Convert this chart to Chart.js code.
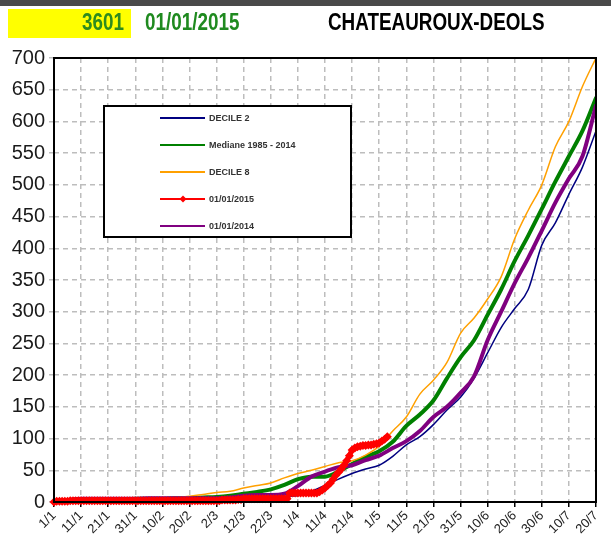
<!DOCTYPE html>
<html>
<head>
<meta charset="utf-8">
<script src="https://cdn.jsdelivr.net/npm/chart.js@4.4.0/dist/chart.umd.min.js"></script>
<style>
html, body { margin: 0; padding: 0; background: #fff; }
#wrap { position: relative; width: 611px; height: 543px; overflow: hidden; }
#topbar { position: absolute; left: 0; top: 0; width: 611px; height: 6px; background: #4a4a4a; }
#station { position: absolute; left: 8px; top: 9px; width: 123px; height: 29px; background: #ffff00; }
.hdr { position: absolute; top: 8px; line-height: 29px; font-family: "Liberation Sans", Arial, sans-serif; font-weight: bold; font-size: 23px; white-space: nowrap; transform: scaleX(0.82); transform-origin: left center; }
#myChart { position: absolute; left: 0; top: 0; }
</style>
</head>
<body>
<div id="wrap">
  <canvas id="myChart" width="611" height="543"></canvas>
  <div id="topbar"></div>
  <div id="station"></div>
  <div class="hdr" style="left:24px;width:100px;text-align:right;color:#2e8b1e;transform-origin:right center;">3601</div>
  <div class="hdr" style="left:145px;color:#1f8a1f;">01/01/2015</div>
  <div class="hdr" style="left:328px;color:#000;">CHATEAUROUX-DEOLS</div>
</div>
<script>
//Подписи оси X (каждые 10 дней с 1/1)
var tickLabels = ['1/1','11/1','21/1','31/1','10/2','20/2','2/3','12/3','22/3','1/4','11/4',
                  '21/4','1/5','11/5','21/5','31/5','10/6','20/6','30/6','10/7','20/7'];

//Дни для многолетних кривых (шаг 5 дней)
var days = [0,5,10,15,20,25,30,35,40,45,50,55,60,65,70,75,80,85,90,95,100,
            105,110,115,120,125,130,135,140,145,150,155,160,165,170,175,180,185,190,195,200];

var decile2 = [0,2,3,3,3,3,3,3,3,3,3,4,4,5,6,7,8,9,10,17,26,
               36,45,52,58,72,90,103,122,145,165,195,235,275,305,335,405,440,485,528,585];
var mediane = [0,2,4,4,4,4,5,5,5,6,6,7,8,10,13,16,20,27,36,40,40,
               48,60,71,80,95,120,138,160,195,228,255,295,335,380,420,462,505,545,585,637];
var decile8 = [0,2,4,4,4,5,5,5,6,7,9,12,15,17,22,26,30,38,45,50,56,
               62,65,74,88,112,134,170,192,220,266,290,320,355,415,460,500,560,600,655,700];
var an2014  = [0,3,5,5,5,5,5,6,6,6,6,6,6,7,10,11,11,13,25,40,48,
               55,58,66,73,85,96,112,134,150,172,198,255,300,345,385,428,472,510,545,625];

//2015 - значения по дням (с 1/1)
var an2015 = [0,1,1,1,1,1,2,2,2,2,
              2,2,2,2,2,2,2,2,2,2,2,2,2,2,2,2,2,2,2,2,
              2,2,2,2,2,2,2,2,2,2,2,2,2,2,2,2,2,2,2,2,
              2,2,2,2,2,2,2,2,2,2,
              2,2,3,3,3,3,3,3,4,4,
              5,5,5,5,5,5,5,5,5,5,5,5,5,5,5,5,5,
              14,14,14,14,14,14,14,14,14,14,14,
              16,19,22,26,30,36,42,47,52,58,65,73,82,
              85,87,88,89,89,90,90,91,92,93,96,99,103];

function toPoints(xs, ys) {
    return ys.map(function (v, i) { return {x: xs[i], y: v}; });
}
var dayIndex = an2015.map(function (v, i) { return i; });

//Рамка вокруг области графика
var framePlugin = {
    id: 'frame',
    afterDatasetsDraw: function (chart) {
        var a = chart.chartArea, ctx = chart.ctx;
        ctx.save();
        ctx.strokeStyle = '#000';
        ctx.lineWidth = 2;
        ctx.setLineDash([]);
        ctx.strokeRect(a.left, a.top, a.right - a.left, a.bottom - a.top);
        ctx.restore();
    }
};

//Легенда в рамке внутри графика
var boxLegend = {
    id: 'boxLegend',
    afterDraw: function (chart) {
        var ctx = chart.ctx;
        ctx.save();
        ctx.setLineDash([]);
        ctx.fillStyle = '#fff';
        ctx.fillRect(104, 106, 247, 131);
        ctx.strokeStyle = '#000';
        ctx.lineWidth = 2;
        ctx.strokeRect(104, 106, 247, 131);
        chart.data.datasets.forEach(function (ds, i) {
            var y = 118 + i * 27;
            ctx.strokeStyle = ds.borderColor;
            ctx.lineWidth = 2;
            ctx.beginPath();
            ctx.moveTo(160, y);
            ctx.lineTo(205, y);
            ctx.stroke();
            if (ds.pointStyle === 'rectRot') {
                ctx.fillStyle = ds.borderColor;
                ctx.beginPath();
                ctx.moveTo(183, y - 3.5);
                ctx.lineTo(186.5, y);
                ctx.lineTo(183, y + 3.5);
                ctx.lineTo(179.5, y);
                ctx.closePath();
                ctx.fill();
            }
            ctx.fillStyle = '#333';
            ctx.font = 'bold 9px "Liberation Sans", Arial, sans-serif';
            ctx.textBaseline = 'middle';
            ctx.fillText(ds.label, 209, y + 0.5);
        });
        ctx.restore();
    }
};

var ctx = document.getElementById('myChart').getContext('2d');
var myChart = new Chart(ctx, {
    type: 'line',
    data: {
        datasets: [{
            label: 'DECILE 2',
            data: toPoints(days, decile2),
            borderColor: '#000080',
            borderWidth: 1.5,
            order: 4
        }, {
            label: 'Mediane 1985 - 2014',
            data: toPoints(days, mediane),
            borderColor: '#008000',
            borderWidth: 4,
            order: 3
        }, {
            label: 'DECILE 8',
            data: toPoints(days, decile8),
            borderColor: '#ffa000',
            borderWidth: 1.5,
            order: 2
        }, {
            label: '01/01/2015',
            data: toPoints(dayIndex, an2015),
            borderColor: '#ff0000',
            backgroundColor: '#ff0000',
            borderWidth: 5,
            pointStyle: 'rectRot',
            pointRadius: 4.5,
            pointBorderWidth: 0,
            tension: 0,
            clip: 8,
            order: 0
        }, {
            label: '01/01/2014',
            data: toPoints(days, an2014),
            borderColor: '#800080',
            borderWidth: 4,
            order: 1
        }]
    },
    options: {
        responsive: false,
        animation: false,
        layout: { padding: { top: 58, right: 15, left: 0, bottom: 0 } },
        plugins: { legend: { display: false }, tooltip: { enabled: false } },
        elements: {
            point: { radius: 0 },
            line: { cubicInterpolationMode: 'monotone', borderCapStyle: 'round', borderJoinStyle: 'round' }
        },
        scales: {
            x: {
                type: 'linear',
                min: 0,
                max: 200,
                ticks: {
                    stepSize: 10,
                    autoSkip: false,
                    maxRotation: 45,
                    minRotation: 45,
                    padding: 1,
                    color: '#222',
                    font: { family: 'Liberation Sans', size: 13 },
                    callback: function (v) { return tickLabels[v / 10]; }
                },
                grid: { color: '#bdbdbd', lineWidth: 1.5, tickLength: 5, tickColor: '#000' },
                border: { display: false, dash: [5, 4] },
                afterFit: function (s) { s.height = 41; }
            },
            y: {
                min: 0,
                max: 700,
                ticks: {
                    stepSize: 50,
                    padding: 4,
                    color: '#1a1a1a',
                    font: { family: 'Liberation Sans', size: 20 }
                },
                grid: { color: '#bdbdbd', lineWidth: 1.5, tickLength: 5, tickColor: '#bdbdbd' },
                border: { display: false, dash: [5, 4] },
                afterFit: function (s) { s.width = 54; }
            }
        }
    },
    plugins: [framePlugin, boxLegend]
});
</script>
</body>
</html>
